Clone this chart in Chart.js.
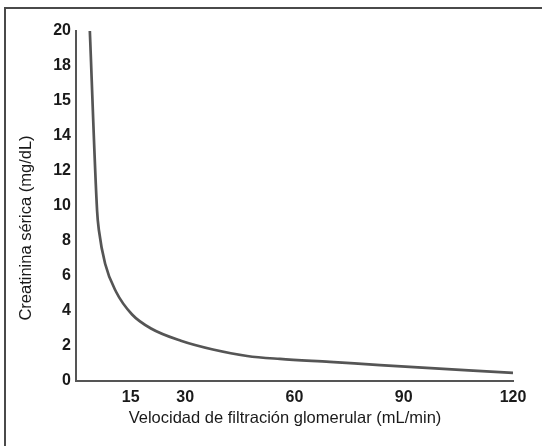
<!DOCTYPE html>
<html>
<head>
<meta charset="utf-8">
<script src="https://cdn.jsdelivr.net/npm/chart.js@4"></script>
<style>
  html, body { margin: 0; padding: 0; background: #fff; }
  #wrap { width: 542px; height: 446px; position: relative; }
</style>
</head>
<body>
<div id="wrap"><canvas id="chart" width="542" height="446"></canvas></div>
<script>
// valores
const tfg = [3.8, 5.8, 6.3, 8.0, 11.0, 15.4, 20.6, 28.8, 37.6, 47, 56, 69.7, 83.5, 120];
const creatinina = [20, 9.7, 8.6, 6.7, 5.1, 3.8, 3.0, 2.3, 1.8, 1.43, 1.26, 1.09, 0.91, 0.46];

const xTicks = [15, 30, 60, 90, 120];
const yTicks = [0, 2, 4, 6, 8, 10, 12, 14, 16, 18, 20];
const yTickLabels = ["0", "2", "4", "6", "8", "10", "12", "14", "15", "18", "20"];

const xTitle = "Velocidad de filtración glomerular (mL/min)";
const yTitle = "Creatinina sérica (mg/dL)";

const tickFont = { family: "Liberation Sans, Arial, sans-serif", size: 16, weight: "bold" };

// marco de la figura + títulos de ejes
const decoPlugin = {
  id: "deco",
  afterDraw(chart) {
    const c = chart.ctx;
    c.save();
    c.strokeStyle = "#4a4a4a";
    c.lineWidth = 2;
    c.beginPath();
    c.moveTo(5, 446);
    c.lineTo(5, 8);
    c.lineTo(542, 8);
    c.stroke();

    c.fillStyle = "#1a1a1a";
    c.font = "16.5px 'Liberation Sans', Arial, sans-serif";
    c.textAlign = "center";
    c.textBaseline = "middle";
    c.fillText(xTitle, 285, 418);
    c.translate(26, 228);
    c.rotate(-Math.PI / 2);
    c.fillText(yTitle, 0, 0);
    c.restore();
  }
};

new Chart(document.getElementById("chart"), {
  type: "line",
  data: {
    datasets: [{
      data: tfg.map((x, i) => ({ x: x, y: creatinina[i] })),
      borderColor: "#555",
      borderWidth: 2.7,
      pointRadius: 0,
      fill: false,
      cubicInterpolationMode: "monotone"
    }]
  },
  options: {
    responsive: false,
    animation: false,
    layout: { padding: { top: 31, right: 29, left: 0, bottom: 0 } },
    plugins: { legend: { display: false }, tooltip: { enabled: false } },
    scales: {
      x: {
        type: "linear",
        min: 0,
        max: 120,
        afterBuildTicks: s => { s.ticks = xTicks.map(v => ({ value: v })); },
        afterFit: s => { s.height = 65; },
        grid: { display: false, drawTicks: false },
        border: { display: true, color: "#555", width: 2 },
        ticks: { color: "#1a1a1a", font: tickFont, padding: 7, maxRotation: 0, autoSkip: false }
      },
      y: {
        type: "linear",
        min: 0,
        max: 20,
        afterBuildTicks: s => { s.ticks = yTicks.map(v => ({ value: v })); },
        afterFit: s => { s.width = 76; },
        grid: { display: false, drawTicks: false },
        border: { display: true, color: "#555", width: 2 },
        ticks: {
          color: "#1a1a1a",
          font: tickFont,
          padding: 5,
          autoSkip: false,
          callback: v => yTickLabels[yTicks.indexOf(v)]
        }
      }
    }
  },
  plugins: [decoPlugin]
});
</script>
</body>
</html>
